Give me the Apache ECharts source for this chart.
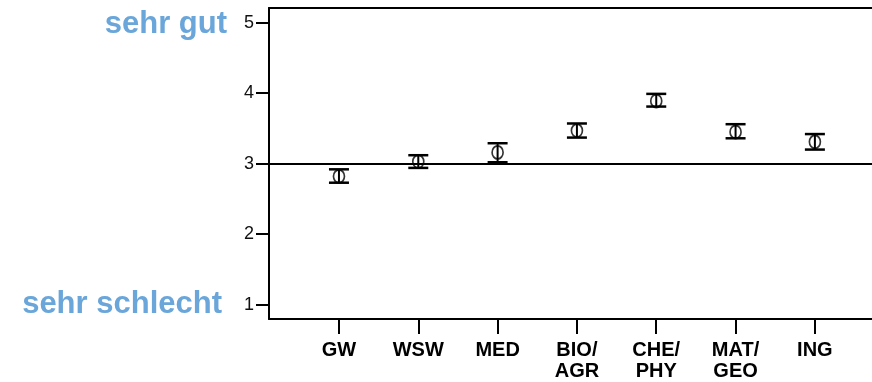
<!DOCTYPE html>
<html>
<head>
<meta charset="utf-8">
<script src="https://cdn.jsdelivr.net/npm/echarts@6/dist/echarts.min.js"></script>
<style>
  html, body { margin: 0; padding: 0; background: #fff; }
  #main { width: 872px; height: 382px; }
</style>
</head>
<body>
<div id="main"></div>
<script>
// Fachgruppen und Mittelwerte mit Fehlerbalken
const categories = ['GW', 'WSW', 'MED', 'BIO/\nAGR', 'CHE/\nPHY', 'MAT/\nGEO', 'ING']
const means = [2.82, 3.03, 3.16, 3.47, 3.89, 3.45, 3.31]
const lower = [2.73, 2.94, 3.02, 3.37, 3.81, 3.36, 3.20]
const upper = [2.92, 3.12, 3.29, 3.57, 3.99, 3.56, 3.42]
const yTicks = [1, 2, 3, 4, 5]
const refLine = 3
const topLabel = 'sehr gut'
const bottomLabel = 'sehr schlecht'

const xPos = categories.map((c, i) => i + 1)

const myChart = echarts.init(document.getElementById('main'))

myChart.setOption({
  animation: false,
  grid: { left: 269, right: 0, top: 8, bottom: 63 },
  xAxis: [
    {
      type: 'value',
      min: 0.118,
      max: 7.72,
      axisLine: { show: true, lineStyle: { color: '#000', width: 2 } },
      axisTick: { show: true, customValues: xPos, length: 15, lineStyle: { color: '#000', width: 2 } },
      axisLabel: {
        customValues: xPos,
        formatter: v => categories[Math.round(v) - 1] || '',
        fontFamily: 'Liberation Sans',
        fontWeight: 'bold',
        fontSize: 20,
        lineHeight: 21,
        color: '#000',
        margin: 21
      },
      splitLine: { show: false }
    },
    {
      type: 'value',
      position: 'top',
      min: 0.118,
      max: 7.72,
      axisLine: { show: true, onZero: false, lineStyle: { color: '#000', width: 2 } },
      axisTick: { show: false },
      axisLabel: { show: false },
      splitLine: { show: false }
    }
  ],
  yAxis: {
    type: 'value',
    min: 0.797,
    max: 5.208,
    axisLine: { show: true, lineStyle: { color: '#000', width: 2 } },
    axisTick: { show: true, customValues: yTicks, length: 13, lineStyle: { color: '#000', width: 2 } },
    axisLabel: {
      customValues: yTicks,
      fontFamily: 'Liberation Sans',
      fontSize: 18,
      color: '#111',
      margin: 15
    },
    splitLine: { show: false }
  },
  graphic: [
    {
      type: 'text',
      style: {
        text: topLabel,
        x: 227,
        y: 24,
        align: 'right',
        verticalAlign: 'middle',
        fill: '#6aa6d9',
        font: 'bold 31px "Liberation Sans"'
      }
    },
    {
      type: 'text',
      style: {
        text: bottomLabel,
        x: 222,
        y: 304,
        align: 'right',
        verticalAlign: 'middle',
        fill: '#6aa6d9',
        font: 'bold 31px "Liberation Sans"'
      }
    }
  ],
  series: [
    {
      type: 'custom',
      data: xPos.map((x, i) => [x, lower[i], upper[i]]),
      renderItem: (params, api) => {
        const lo = api.coord([api.value(0), api.value(1)])
        const hi = api.coord([api.value(0), api.value(2)])
        const half = 10
        const style = { stroke: '#000', lineWidth: 2.5 }
        return {
          type: 'group',
          children: [
            { type: 'line', shape: { x1: lo[0], y1: lo[1], x2: hi[0], y2: hi[1] }, style: { stroke: '#000', lineWidth: 2 } },
            { type: 'line', shape: { x1: hi[0] - half, y1: hi[1], x2: hi[0] + half, y2: hi[1] }, style },
            { type: 'line', shape: { x1: lo[0] - half, y1: lo[1], x2: lo[0] + half, y2: lo[1] }, style }
          ]
        }
      },
      markLine: {
        silent: true,
        symbol: 'none',
        label: { show: false },
        lineStyle: { color: '#000', width: 2, type: 'solid' },
        data: [{ yAxis: refLine }]
      }
    },
    {
      type: 'scatter',
      data: xPos.map((x, i) => [x, means[i]]),
      symbol: 'circle',
      symbolSize: [11, 13],
      itemStyle: { color: 'transparent', borderColor: '#000', borderWidth: 1.8 }
    }
  ]
})
</script>
</body>
</html>
